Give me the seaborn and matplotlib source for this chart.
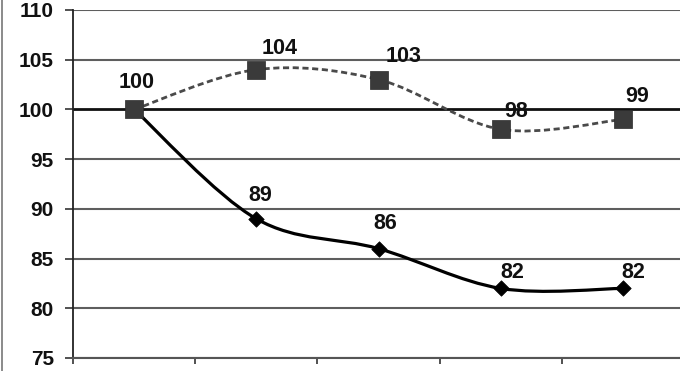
import numpy as np
import matplotlib
matplotlib.use("Agg")
import matplotlib.pyplot as plt
from matplotlib.path import Path
from matplotlib.patches import PathPatch
import seaborn as sns
import pandas as pd

# Data
periods = [0, 1, 2, 3, 4]
series_solid = [100, 89, 86, 82, 82]
series_dashed = [100, 104, 103, 98, 99]
y_ticks = [75, 80, 85, 90, 95, 100, 105, 110]

# Label placement (pixel offsets from each marker, y up)
label_off_solid = [(3, 27), (4, 23), (7, 25), (12, 16), (10, 16)]
label_off_dashed = [(3, 27), (23, 21), (25, 23), (15, 18), (14, 23)]

sns.set_theme(style="white")
plt.rcParams["font.family"] = ["Liberation Sans", "DejaVu Sans"]

fig = plt.figure(figsize=(6.8, 3.71), dpi=100)
W, H = 680, 371
ax = fig.add_axes([73 / W, 1 - 358 / H, (680 - 73) / W, (358 - 10) / H])


def smooth_path(xs, ys):
    """Bezier path through the points (Catmull-Rom style smoothing)."""
    pts = np.column_stack([xs, ys]).astype(float)
    n = len(pts)
    verts = [pts[0]]
    codes = [Path.MOVETO]
    for i in range(n - 1):
        p0 = pts[i - 1] if i > 0 else pts[i]
        p1 = pts[i]
        p2 = pts[i + 1]
        p3 = pts[i + 2] if i + 2 < n else pts[i + 1]
        c1 = p1 + (p2 - p0) / 6.0
        c2 = p2 - (p3 - p1) / 6.0
        verts += [c1, c2, p2]
        codes += [Path.CURVE4] * 3
    return Path(verts, codes)


# Gridlines
for yv in y_ticks:
    if yv == 100:
        ax.axhline(yv, color="#111111", lw=2.0, zorder=1)
    else:
        ax.axhline(yv, color="#5e5e5e", lw=1.5, zorder=1)

# Smoothed lines
ax.add_patch(PathPatch(smooth_path(periods, series_dashed), fill=False,
                       edgecolor="#4a4a4a", lw=2.0, linestyle=(0, (2.2, 1.3)),
                       zorder=3))
ax.add_patch(PathPatch(smooth_path(periods, series_solid), fill=False,
                       edgecolor="#000000", lw=2.3, zorder=3))

df_dashed = pd.DataFrame({"period": periods, "value": series_dashed})
df_solid = pd.DataFrame({"period": periods, "value": series_solid})

sns.scatterplot(data=df_solid, x="period", y="value", marker="D", s=62,
                color="#000000", edgecolor="#000000", linewidth=0.5,
                ax=ax, zorder=4, legend=False)
sns.scatterplot(data=df_dashed, x="period", y="value", marker="s", s=170,
                color="#3a3a3a", edgecolor="#2a2a2a", linewidth=0.5,
                ax=ax, zorder=5, legend=False)

# Value labels
label_kw = dict(textcoords="offset pixels", ha="center", va="center",
                fontsize=15.5, fontweight="bold", color="#111111", zorder=6)
for x, y, off in zip(periods, series_solid, label_off_solid):
    if x == periods[0]:
        continue
    ax.annotate(f"{y}", (x, y), xytext=off, **label_kw)
for x, y, off in zip(periods, series_dashed, label_off_dashed):
    ax.annotate(f"{y}", (x, y), xytext=off, **label_kw)

# Axes
ax.set_xlim(-0.5, 4.467)
ax.set_ylim(75, 110)
ax.set_yticks(y_ticks)
ax.set_yticklabels([str(v) for v in y_ticks], fontsize=15, fontweight="bold",
                   color="#111111")
ax.set_xticks([-0.5, 0.5, 1.5, 2.5, 3.5])
ax.set_xticklabels([])
ax.set_xlabel("")
ax.set_ylabel("")
ax.tick_params(axis="y", direction="out", length=5.8, width=1.2,
               color="#333333", pad=8, left=True)
ax.tick_params(axis="x", direction="out", length=4.5, width=1.2,
               color="#333333", bottom=True)
for side in ["top", "right"]:
    ax.spines[side].set_visible(False)
ax.spines["left"].set_color("#222222")
ax.spines["left"].set_linewidth(1.3)
ax.spines["bottom"].set_color("#555555")
ax.spines["bottom"].set_linewidth(1.5)
ax.set_facecolor("white")
fig.patch.set_facecolor("white")

# Frame line on the left edge
fig.add_artist(plt.Line2D([1.5 / W, 1.5 / W], [0, 1], color="#777777",
                          lw=1.2, transform=fig.transFigure))

fig.savefig("out.png", dpi=100)
